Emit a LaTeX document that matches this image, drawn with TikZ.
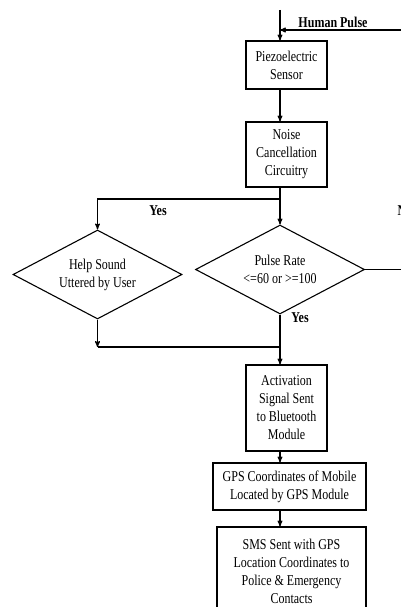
\documentclass[tikz,border=0pt]{standalone}
\usepackage{fontspec}
\setmainfont{Liberation Serif}[FakeStretch=0.8]
\usetikzlibrary{arrows,positioning,shapes.geometric}
\tikzset{
>=stealth',
  box/.style={
    rectangle,
    draw=black, line width=1.1pt,
    align=center,
    font=\fontsize{15}{18}\selectfont,
    inner sep=0pt},
  decision/.style={
    diamond, aspect=1.9,
    draw=black, line width=1.1pt,
    align=center,
    font=\fontsize{15}{18}\selectfont,
    minimum width=169pt,
    minimum height=89pt,
    inner sep=0pt},
  line/.style={draw, line width=1.1pt},
  tag/.style={font=\bfseries\fontsize{15}{18}\selectfont, inner sep=0pt},
}
\begin{document}
\begin{tikzpicture}[x=1pt,y=-1pt]
\useasboundingbox (0,0) rectangle (401,607);
\coordinate (axis) at (280,0);

\node[box, minimum width=81pt, minimum height=48pt] (piezo) at (286.5,65) {
Piezoelectric\\Sensor
};

\node[box, minimum width=81pt, minimum height=65pt, below of=piezo, node distance=89.5pt] (noise) {
Noise\\Cancellation\\Circuitry
};

\node[decision] (help) at (97.5,274.5) {
Help Sound\\Uttered by User
};

\node[decision] (pulse) at (280,269.5) {
Pulse Rate\\<=60 or >=100
};

\node[box, minimum width=81pt, minimum height=86pt] (act) at (286.5,408) {
Activation\\Signal Sent\\to Bluetooth\\Module
};

\node[box, minimum width=153pt, minimum height=47pt, below of=act, node distance=78.5pt, xshift=3pt] (gps) {
GPS Coordinates of Mobile\\Located by GPS Module
};

\node[box, minimum width=149pt, minimum height=88pt, below of=gps, node distance=84.5pt, xshift=2pt] (sms) {
SMS Sent with GPS\\Location Coordinates to\\Police \& Emergency\\Contacts
};

% input
\coordinate (top) at (280,10);
\coordinate (hp) at (401,30);
\draw [line,->] (top) -- (piezo.north -| axis);
\draw [line,->] (hp) -- (hp -| axis);
\node[tag] (hplabel) at (333,22) {Human Pulse};

\draw [line,->] (piezo.south -| axis) -- (noise.north -| axis);

% split to both checks
\coordinate (split) at (280,199);
\draw [line] (noise.south -| axis) -- (split);
\draw [line,->] (split) -- (split -| help) -- (help.north);
\draw [line,->] (split) -- (pulse.north);
\node[tag] (yes1) at (158,211) {Yes};

\coordinate (noend) at (401,269.5);
\draw [line] (pulse.east) -- (noend);
\node[tag, anchor=west] (no) at (397.5,211) {No};

% merge
\coordinate (merge) at (97.5,347);
\draw [line,->] (help.south) -- (merge);
\draw [line] (merge) -- (merge -| axis);
\draw [line,->] (pulse.south) -- (act.north -| axis);
\node[tag] (yes2) at (300,318) {Yes};

\draw [line,->] (act.south -| axis) -- (gps.north -| axis);
\draw [line,->] (gps.south -| axis) -- (sms.north -| axis);

\end{tikzpicture}
\end{document}
